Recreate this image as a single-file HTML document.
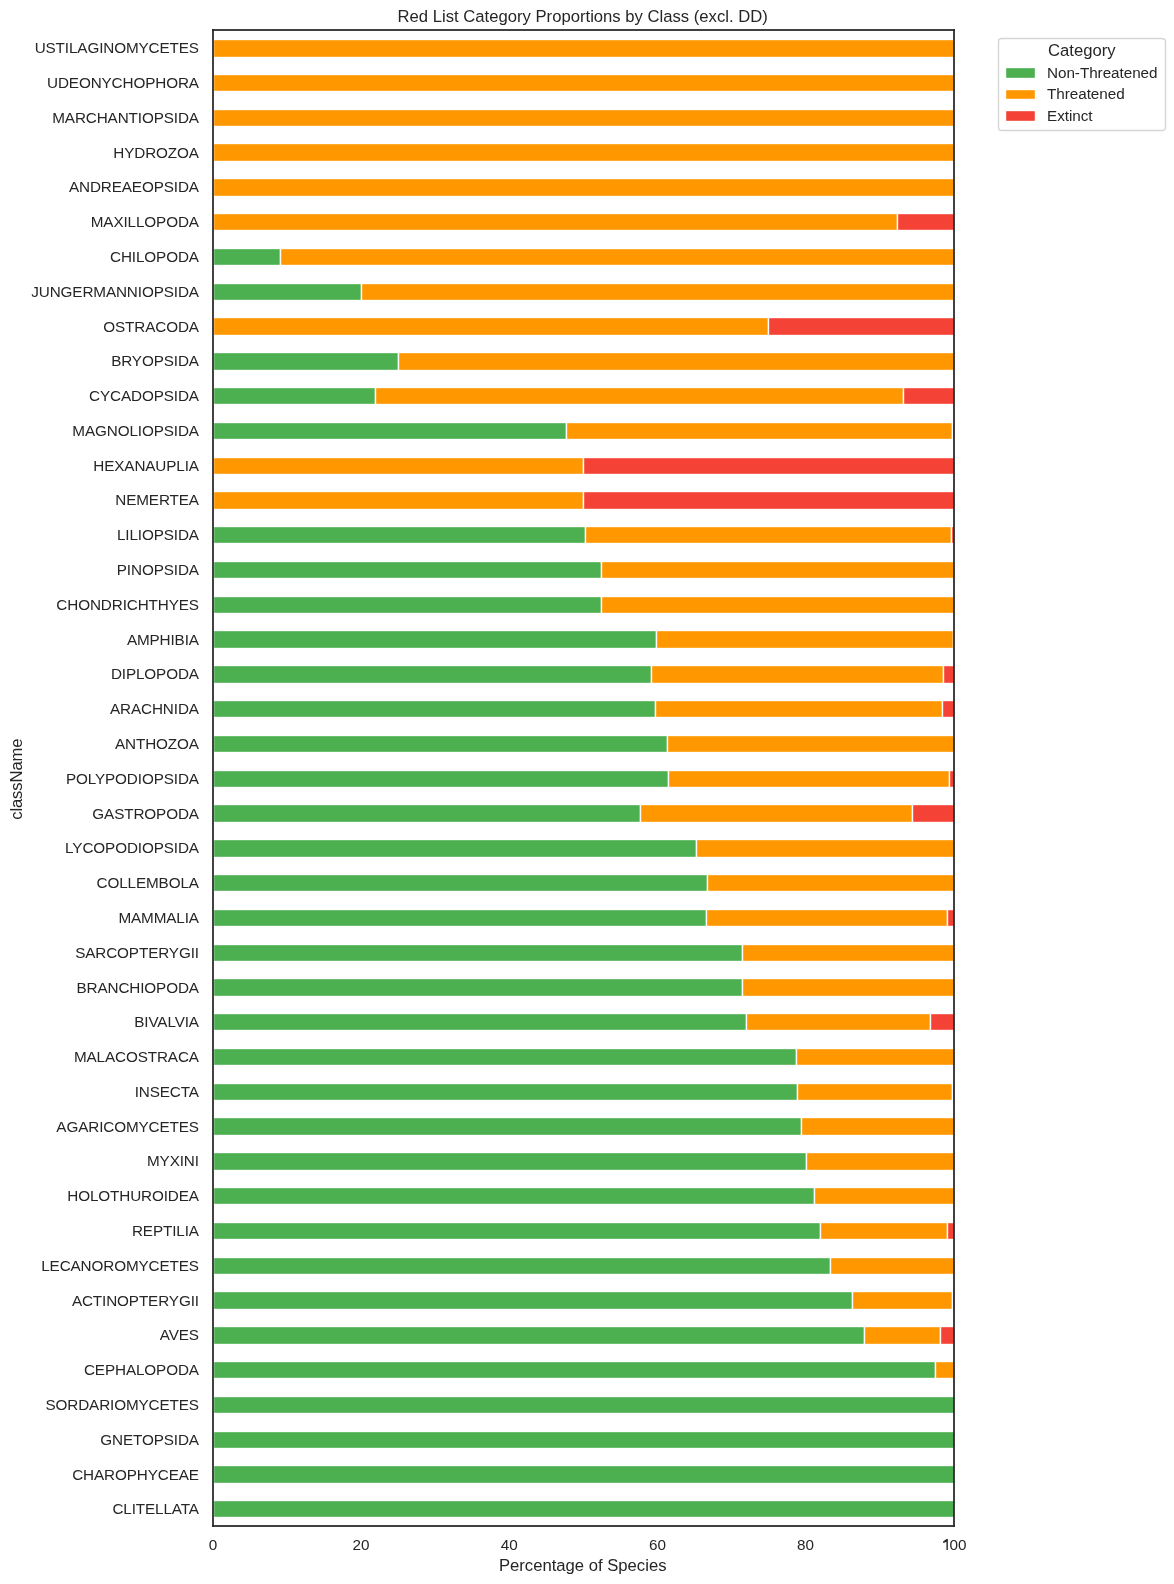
<!DOCTYPE html>
<html lang="en"><head><meta charset="utf-8"><title>Red List Category Proportions by Class (excl. DD)</title>
<style>
html,body{margin:0;padding:0;background:#ffffff;width:1174px;height:1584px;overflow:hidden}
svg{display:block;position:absolute;left:0;top:0;will-change:transform}
text{font-family:"Liberation Sans",sans-serif;fill:#262626;}
</style></head><body>
<svg width="1174" height="1584" viewBox="0 0 1174 1584">
<rect width="1174" height="1584" fill="#ffffff"/>
<g id="bars" stroke="#ffffff" stroke-width="1.39">
<rect x="213.5" y="1500.5" width="741" height="17" fill="#4caf50"/>
<rect x="213.5" y="1465.5" width="741" height="18" fill="#4caf50"/>
<rect x="213.5" y="1431.5" width="741" height="17" fill="#4caf50"/>
<rect x="213.5" y="1396.5" width="741" height="17" fill="#4caf50"/>
<rect x="213.5" y="1361.5" width="722" height="17" fill="#4caf50"/>
<rect x="213.5" y="1326.5" width="651" height="18" fill="#4caf50"/>
<rect x="213.5" y="1291.5" width="639" height="18" fill="#4caf50"/>
<rect x="213.5" y="1257.5" width="617" height="17" fill="#4caf50"/>
<rect x="213.5" y="1222.5" width="607" height="17" fill="#4caf50"/>
<rect x="213.5" y="1187.5" width="601" height="17" fill="#4caf50"/>
<rect x="213.5" y="1152.5" width="593" height="18" fill="#4caf50"/>
<rect x="213.5" y="1117.5" width="588" height="18" fill="#4caf50"/>
<rect x="213.5" y="1083.5" width="584" height="17" fill="#4caf50"/>
<rect x="213.5" y="1048.5" width="583" height="17" fill="#4caf50"/>
<rect x="213.5" y="1013.5" width="533" height="17" fill="#4caf50"/>
<rect x="213.5" y="978.5" width="529" height="18" fill="#4caf50"/>
<rect x="213.5" y="944.5" width="529" height="17" fill="#4caf50"/>
<rect x="213.5" y="909.5" width="493" height="17" fill="#4caf50"/>
<rect x="213.5" y="874.5" width="494" height="17" fill="#4caf50"/>
<rect x="213.5" y="839.5" width="483" height="18" fill="#4caf50"/>
<rect x="213.5" y="804.5" width="427" height="18" fill="#4caf50"/>
<rect x="213.5" y="770.5" width="455" height="17" fill="#4caf50"/>
<rect x="213.5" y="735.5" width="454" height="17" fill="#4caf50"/>
<rect x="213.5" y="700.5" width="442" height="17" fill="#4caf50"/>
<rect x="213.5" y="665.5" width="438" height="18" fill="#4caf50"/>
<rect x="213.5" y="630.5" width="443" height="18" fill="#4caf50"/>
<rect x="213.5" y="596.5" width="388" height="17" fill="#4caf50"/>
<rect x="213.5" y="561.5" width="388" height="17" fill="#4caf50"/>
<rect x="213.5" y="526.5" width="372" height="17" fill="#4caf50"/>
<rect x="213.5" y="422.5" width="353" height="17" fill="#4caf50"/>
<rect x="213.5" y="387.5" width="162" height="17" fill="#4caf50"/>
<rect x="213.5" y="352.5" width="185" height="18" fill="#4caf50"/>
<rect x="213.5" y="283.5" width="148" height="17" fill="#4caf50"/>
<rect x="213.5" y="248.5" width="67" height="17" fill="#4caf50"/>
<rect x="935.5" y="1361.5" width="19" height="17" fill="#ff9800"/>
<rect x="864.5" y="1326.5" width="76" height="18" fill="#ff9800"/>
<rect x="852.5" y="1291.5" width="100" height="18" fill="#ff9800"/>
<rect x="830.5" y="1257.5" width="124" height="17" fill="#ff9800"/>
<rect x="820.5" y="1222.5" width="127" height="17" fill="#ff9800"/>
<rect x="814.5" y="1187.5" width="140" height="17" fill="#ff9800"/>
<rect x="806.5" y="1152.5" width="148" height="18" fill="#ff9800"/>
<rect x="801.5" y="1117.5" width="153" height="18" fill="#ff9800"/>
<rect x="797.5" y="1083.5" width="155" height="17" fill="#ff9800"/>
<rect x="796.5" y="1048.5" width="158" height="17" fill="#ff9800"/>
<rect x="746.5" y="1013.5" width="184" height="17" fill="#ff9800"/>
<rect x="742.5" y="978.5" width="212" height="18" fill="#ff9800"/>
<rect x="742.5" y="944.5" width="212" height="17" fill="#ff9800"/>
<rect x="706.5" y="909.5" width="241" height="17" fill="#ff9800"/>
<rect x="707.5" y="874.5" width="247" height="17" fill="#ff9800"/>
<rect x="696.5" y="839.5" width="258" height="18" fill="#ff9800"/>
<rect x="640.5" y="804.5" width="272" height="18" fill="#ff9800"/>
<rect x="668.5" y="770.5" width="281" height="17" fill="#ff9800"/>
<rect x="667.5" y="735.5" width="287" height="17" fill="#ff9800"/>
<rect x="655.5" y="700.5" width="287" height="17" fill="#ff9800"/>
<rect x="651.5" y="665.5" width="292" height="18" fill="#ff9800"/>
<rect x="656.5" y="630.5" width="297" height="18" fill="#ff9800"/>
<rect x="601.5" y="596.5" width="353" height="17" fill="#ff9800"/>
<rect x="601.5" y="561.5" width="353" height="17" fill="#ff9800"/>
<rect x="585.5" y="526.5" width="366" height="17" fill="#ff9800"/>
<rect x="213.5" y="491.5" width="370" height="18" fill="#ff9800"/>
<rect x="213.5" y="457.5" width="370" height="17" fill="#ff9800"/>
<rect x="566.5" y="422.5" width="386" height="17" fill="#ff9800"/>
<rect x="375.5" y="387.5" width="528" height="17" fill="#ff9800"/>
<rect x="398.5" y="352.5" width="556" height="18" fill="#ff9800"/>
<rect x="213.5" y="317.5" width="555" height="18" fill="#ff9800"/>
<rect x="361.5" y="283.5" width="593" height="17" fill="#ff9800"/>
<rect x="280.5" y="248.5" width="674" height="17" fill="#ff9800"/>
<rect x="213.5" y="213.5" width="684" height="17" fill="#ff9800"/>
<rect x="213.5" y="178.5" width="741" height="18" fill="#ff9800"/>
<rect x="213.5" y="143.5" width="741" height="18" fill="#ff9800"/>
<rect x="213.5" y="109.5" width="741" height="17" fill="#ff9800"/>
<rect x="213.5" y="74.5" width="741" height="17" fill="#ff9800"/>
<rect x="213.5" y="39.5" width="741" height="18" fill="#ff9800"/>
<rect x="940.5" y="1326.5" width="14" height="18" fill="#f44336"/>
<rect x="952.5" y="1291.5" width="2" height="18" fill="#f44336"/>
<rect x="947.5" y="1222.5" width="7" height="17" fill="#f44336"/>
<rect x="952.5" y="1083.5" width="2" height="17" fill="#f44336"/>
<rect x="930.5" y="1013.5" width="24" height="17" fill="#f44336"/>
<rect x="947.5" y="909.5" width="7" height="17" fill="#f44336"/>
<rect x="912.5" y="804.5" width="42" height="18" fill="#f44336"/>
<rect x="949.5" y="770.5" width="5" height="17" fill="#f44336"/>
<rect x="942.5" y="700.5" width="12" height="17" fill="#f44336"/>
<rect x="943.5" y="665.5" width="11" height="18" fill="#f44336"/>
<rect x="953.5" y="630.5" width="1" height="18" fill="#f44336"/>
<rect x="951.5" y="526.5" width="3" height="17" fill="#f44336"/>
<rect x="583.5" y="491.5" width="371" height="18" fill="#f44336"/>
<rect x="583.5" y="457.5" width="371" height="17" fill="#f44336"/>
<rect x="952.5" y="422.5" width="2" height="17" fill="#f44336"/>
<rect x="903.5" y="387.5" width="51" height="17" fill="#f44336"/>
<rect x="768.5" y="317.5" width="186" height="18" fill="#f44336"/>
<rect x="897.5" y="213.5" width="57" height="17" fill="#f44336"/>
</g>
<g id="spines">
<rect x="212.13" y="29.13" width="1.74" height="1497.74" fill="#262626"/>
<rect x="953.13" y="29.13" width="1.74" height="1497.74" fill="#262626"/>
<rect x="212.13" y="1525.13" width="742.74" height="1.74" fill="#262626"/>
<rect x="212.13" y="29.13" width="742.74" height="1.74" fill="#262626"/>
</g>
<g id="legend">
<path d="M1001.5 130.5 L1161.5 130.5 Q1165.5 130.5 1165.5 127.5 L1165.5 41.5 Q1165.5 38.5 1161.5 38.5 L1001.5 38.5 Q998.5 38.5 998.5 41.5 L998.5 127.5 Q998.5 130.5 1001.5 130.5 Z" fill="#ffffff" stroke="#cccccc" stroke-width="1.39" opacity="0.8"/>
<rect x="1005.5" y="67.5" width="30" height="11" fill="#4caf50" stroke="#ffffff" stroke-width="1.39"/>
<rect x="1005.5" y="89.5" width="30" height="10" fill="#ff9800" stroke="#ffffff" stroke-width="1.39"/>
<rect x="1005.5" y="110.5" width="30" height="11" fill="#f44336" stroke="#ffffff" stroke-width="1.39"/>
</g>
<g id="labels">
<text x="212.88" y="1550.44" font-size="15.28" text-anchor="middle">0</text>
<text x="361.05" y="1550.44" font-size="15.28" text-anchor="middle">20</text>
<text x="509.22" y="1550.44" font-size="15.28" text-anchor="middle">40</text>
<text x="657.39" y="1550.44" font-size="15.28" text-anchor="middle">60</text>
<text x="805.56" y="1550.44" font-size="15.28" text-anchor="middle">80</text>
<text x="966.49" y="1550.44" font-size="15.28" text-anchor="end">00</text>
<path d="M947.85 1538.94 L947.85 1549.94 L946.45 1549.94 L946.45 1541.74 L943.6 1543.09 L943.15 1542.89 L943.15 1541.44 L946.55 1538.94 Z" fill="#262626"/>
<text x="582.71" y="1571" font-size="16.67" text-anchor="middle">Percentage of Species</text>
<text x="198.88" y="1514.36" font-size="15.28" text-anchor="end" letter-spacing="-0.12">CLITELLATA</text>
<text x="198.88" y="1479.57" font-size="15.28" text-anchor="end" letter-spacing="-0.12">CHAROPHYCEAE</text>
<text x="198.88" y="1444.78" font-size="15.28" text-anchor="end" letter-spacing="-0.12">GNETOPSIDA</text>
<text x="198.88" y="1409.99" font-size="15.28" text-anchor="end" letter-spacing="-0.12">SORDARIOMYCETES</text>
<text x="198.88" y="1375.2" font-size="15.28" text-anchor="end" letter-spacing="-0.12">CEPHALOPODA</text>
<text x="198.88" y="1340.41" font-size="15.28" text-anchor="end" letter-spacing="-0.12">AVES</text>
<text x="198.88" y="1305.62" font-size="15.28" text-anchor="end" letter-spacing="-0.12">ACTINOPTERYGII</text>
<text x="198.88" y="1270.83" font-size="15.28" text-anchor="end" letter-spacing="-0.12">LECANOROMYCETES</text>
<text x="198.88" y="1236.05" font-size="15.28" text-anchor="end" letter-spacing="-0.12">REPTILIA</text>
<text x="198.88" y="1201.26" font-size="15.28" text-anchor="end" letter-spacing="-0.12">HOLOTHUROIDEA</text>
<text x="198.88" y="1166.47" font-size="15.28" text-anchor="end" letter-spacing="-0.12">MYXINI</text>
<text x="198.88" y="1131.68" font-size="15.28" text-anchor="end" letter-spacing="-0.12">AGARICOMYCETES</text>
<text x="198.88" y="1096.89" font-size="15.28" text-anchor="end" letter-spacing="-0.12">INSECTA</text>
<text x="198.88" y="1062.1" font-size="15.28" text-anchor="end" letter-spacing="-0.12">MALACOSTRACA</text>
<text x="198.88" y="1027.31" font-size="15.28" text-anchor="end" letter-spacing="-0.12">BIVALVIA</text>
<text x="198.88" y="992.52" font-size="15.28" text-anchor="end" letter-spacing="-0.12">BRANCHIOPODA</text>
<text x="198.88" y="957.74" font-size="15.28" text-anchor="end" letter-spacing="-0.12">SARCOPTERYGII</text>
<text x="198.88" y="922.95" font-size="15.28" text-anchor="end" letter-spacing="-0.12">MAMMALIA</text>
<text x="198.88" y="888.16" font-size="15.28" text-anchor="end" letter-spacing="-0.12">COLLEMBOLA</text>
<text x="198.88" y="853.37" font-size="15.28" text-anchor="end" letter-spacing="-0.12">LYCOPODIOPSIDA</text>
<text x="198.88" y="818.58" font-size="15.28" text-anchor="end" letter-spacing="-0.12">GASTROPODA</text>
<text x="198.88" y="783.79" font-size="15.28" text-anchor="end" letter-spacing="-0.12">POLYPODIOPSIDA</text>
<text x="198.88" y="749" font-size="15.28" text-anchor="end" letter-spacing="-0.12">ANTHOZOA</text>
<text x="198.88" y="714.21" font-size="15.28" text-anchor="end" letter-spacing="-0.12">ARACHNIDA</text>
<text x="198.88" y="679.43" font-size="15.28" text-anchor="end" letter-spacing="-0.12">DIPLOPODA</text>
<text x="198.88" y="644.64" font-size="15.28" text-anchor="end" letter-spacing="-0.12">AMPHIBIA</text>
<text x="198.88" y="609.85" font-size="15.28" text-anchor="end" letter-spacing="-0.12">CHONDRICHTHYES</text>
<text x="198.88" y="575.06" font-size="15.28" text-anchor="end" letter-spacing="-0.12">PINOPSIDA</text>
<text x="198.88" y="540.27" font-size="15.28" text-anchor="end" letter-spacing="-0.12">LILIOPSIDA</text>
<text x="198.88" y="505.48" font-size="15.28" text-anchor="end" letter-spacing="-0.12">NEMERTEA</text>
<text x="198.88" y="470.69" font-size="15.28" text-anchor="end" letter-spacing="-0.12">HEXANAUPLIA</text>
<text x="198.88" y="435.9" font-size="15.28" text-anchor="end" letter-spacing="-0.12">MAGNOLIOPSIDA</text>
<text x="198.88" y="401.12" font-size="15.28" text-anchor="end" letter-spacing="-0.12">CYCADOPSIDA</text>
<text x="198.88" y="366.33" font-size="15.28" text-anchor="end" letter-spacing="-0.12">BRYOPSIDA</text>
<text x="198.88" y="331.54" font-size="15.28" text-anchor="end" letter-spacing="-0.12">OSTRACODA</text>
<text x="198.88" y="296.75" font-size="15.28" text-anchor="end" letter-spacing="-0.12">JUNGERMANNIOPSIDA</text>
<text x="198.88" y="261.96" font-size="15.28" text-anchor="end" letter-spacing="-0.12">CHILOPODA</text>
<text x="198.88" y="227.17" font-size="15.28" text-anchor="end" letter-spacing="-0.12">MAXILLOPODA</text>
<text x="198.88" y="192.38" font-size="15.28" text-anchor="end" letter-spacing="-0.12">ANDREAEOPSIDA</text>
<text x="198.88" y="157.59" font-size="15.28" text-anchor="end" letter-spacing="-0.12">HYDROZOA</text>
<text x="198.88" y="122.81" font-size="15.28" text-anchor="end" letter-spacing="-0.12">MARCHANTIOPSIDA</text>
<text x="198.88" y="88.02" font-size="15.28" text-anchor="end" letter-spacing="-0.12">UDEONYCHOPHORA</text>
<text x="198.88" y="53.23" font-size="15.28" text-anchor="end" letter-spacing="-0.12">USTILAGINOMYCETES</text>
<text x="22" y="779.19" font-size="16.67" text-anchor="middle" letter-spacing="-0.13" transform="rotate(-90 22 779.19)">className</text>
<text x="582.71" y="22" font-size="16.67" text-anchor="middle">Red List Category Proportions by Class (excl. DD)</text>
<text x="1047.98" y="56.08" font-size="16.67" text-anchor="start">Category</text>
<text x="1047.01" y="77.72" font-size="15.28" text-anchor="start" letter-spacing="-0.05">Non-Threatened</text>
<text x="1047.01" y="99.36" font-size="15.28" text-anchor="start" letter-spacing="-0.05">Threatened</text>
<text x="1047.01" y="121" font-size="15.28" text-anchor="start" letter-spacing="-0.05">Extinct</text>
</g>
</svg>
</body></html>
